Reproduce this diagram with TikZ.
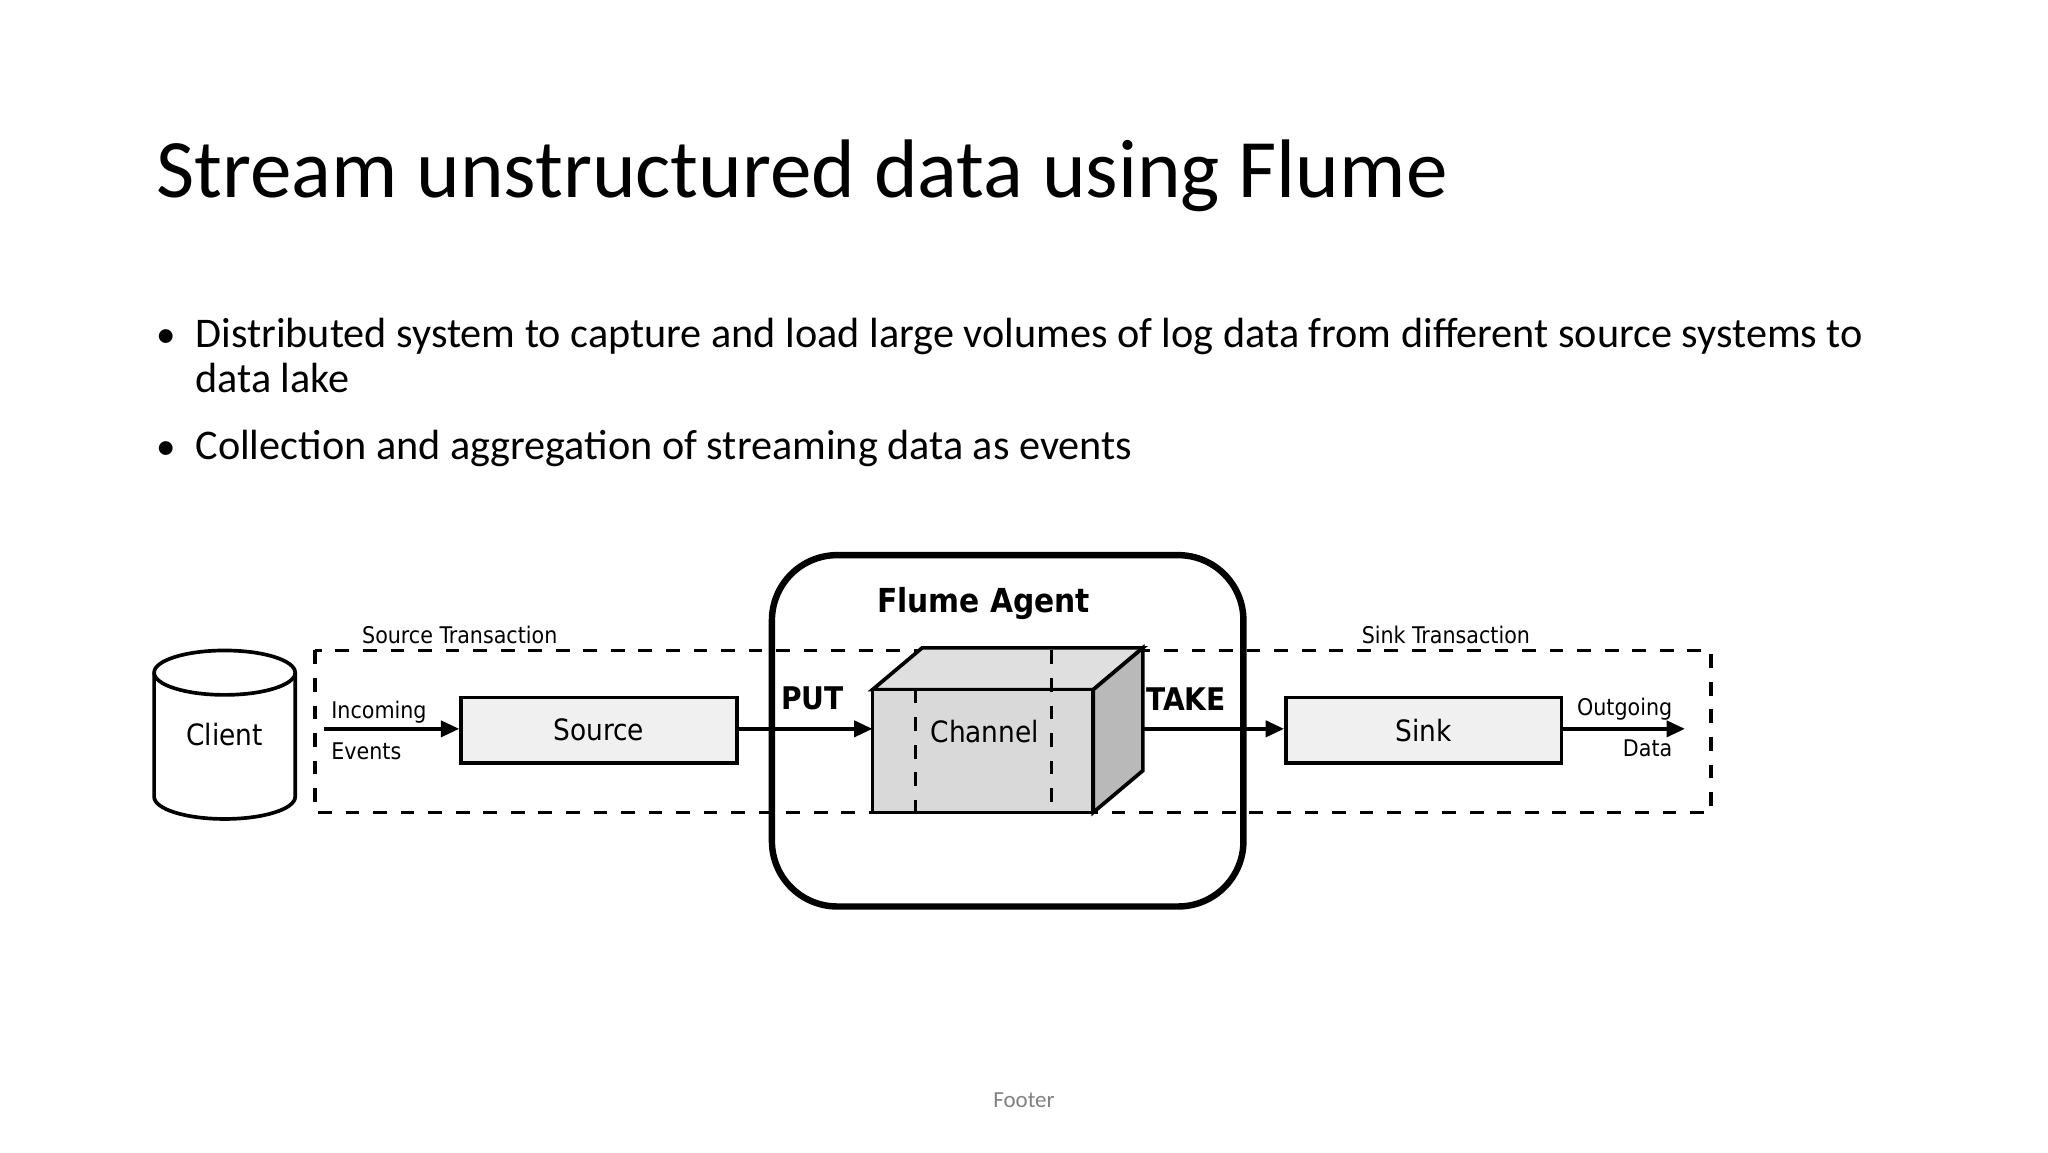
\documentclass[tikz,border=0pt]{standalone}
\usepackage{fontspec}
\setmainfont{Carlito}
\newfontfamily\diag{DejaVu Sans Condensed}
\usetikzlibrary{shapes.geometric,arrows.meta}
\tikzset{
  box/.style={draw, thick, fill=gray!12, minimum width=2.11cm, minimum height=0.5cm, font=\diag\fontsize{6.4}{7}\selectfont},
  lbl/.style={font=\diag\fontsize{5}{6}\selectfont, inner sep=0pt},
  flow/.style={thick, -{Triangle[length=4pt,width=3.5pt]}},
  trans/.style={thick, dashed}
}
\begin{document}
\begin{tikzpicture}[x=1cm,y=-1cm]
  \useasboundingbox (0,0) rectangle (15.68,8.82);
  % heading and bullets
  \node[anchor=base west, inner sep=0pt, font=\fontsize{18.1}{22}\selectfont] (title) at (1.19,1.51) {Stream unstructured data using Flume};
  \node[anchor=base west, inner sep=0pt, font=\fontsize{8.5}{10}\selectfont] (b1) at (1.19,2.66) {\textbullet};
  \node[anchor=base west, inner sep=0pt, font=\fontsize{9.2}{9.9}\selectfont, text width=13.3cm, align=flush left] (t1) at (1.49,2.66) {Distributed system to capture and load large volumes of log data from different source systems to data lake};
  \node[anchor=base west, inner sep=0pt, font=\fontsize{8.5}{10}\selectfont] (b2) at (1.19,3.52) {\textbullet};
  \node[anchor=base west, inner sep=0pt, font=\fontsize{9.2}{10}\selectfont] (t2) at (1.49,3.52) {Collection and aggregation of streaming data as events};

  % agent and transactions
  \draw[line width=1.4pt, rounded corners=0.5cm] (5.91,4.25) rectangle (9.52,6.94);
  \node[font=\diag\bfseries\fontsize{7.2}{8}\selectfont] (agent) at (7.53,4.62) {Flume Agent};
  \draw[trans] (2.41,4.98) rectangle (8.05,6.22);
  \draw[trans] (7.01,4.98) rectangle (13.10,6.22);
  \node[lbl] at (3.52,4.86) {Source Transaction};
  \node[lbl] at (11.07,4.86) {Sink Transaction};

  % client
  \filldraw[thick, fill=white] (1.18,5.15) -- (1.18,6.10) arc[start angle=180, end angle=360, x radius=0.54, y radius=-0.17] -- (2.26,5.15);
  \draw[thick] (1.72,5.15) ellipse[x radius=0.54, y radius=0.17];
  \node[font=\diag\fontsize{6.4}{7}\selectfont] (client) at (1.72,5.62) {Client};

  % channel cube
  \filldraw[thick, fill=gray!25] (6.68,5.28) -- (7.06,4.96) -- (8.75,4.96) -- (8.37,5.28) -- cycle;
  \filldraw[thick, fill=gray!55] (8.37,5.28) -- (8.75,4.96) -- (8.75,5.90) -- (8.37,6.22) -- cycle;
  \fill[gray!30] (6.68,5.28) rectangle (8.37,6.22);
  \draw[trans] (7.01,5.28) -- (7.01,6.22) (8.05,4.98) -- (8.05,6.22);
  \draw[thick] (6.68,5.28) rectangle (8.37,6.22);
  \node[font=\diag\fontsize{6.4}{7}\selectfont] (channel) at (7.54,5.6) {Channel};
  \coordinate (chin) at (6.68,5.58);
  \coordinate (chout) at (8.75,5.58);

  \node[box] (source) at (4.585,5.59) {Source};
  \node[box] (sink) at (10.90,5.59) {Sink};
  \coordinate (inc) at (2.48,5.58);
  \coordinate (outg) at (12.90,5.58);

  \draw[flow] (inc) -- (source.west |- inc);
  \draw[flow] (source.east |- chin) -- (chin);
  \draw[flow] (chout) -- (sink.west |- chout);
  \draw[flow] (sink.east |- outg) -- (outg);

  \node[lbl, anchor=west, align=left] at (2.53,5.59) {Incoming\\[3pt]Events};
  \node[lbl, anchor=east, align=right] at (12.81,5.57) {Outgoing\\[3pt]Data};
  \node[font=\diag\bfseries\fontsize{6.8}{8}\selectfont] at (6.22,5.35) {PUT};
  \node[font=\diag\bfseries\fontsize{6.8}{8}\selectfont] at (9.08,5.35) {TAKE};

  \node[font=\fontsize{5}{6}\selectfont, text=gray] (footer) at (7.84,8.42) {Footer};
\end{tikzpicture}
\end{document}
